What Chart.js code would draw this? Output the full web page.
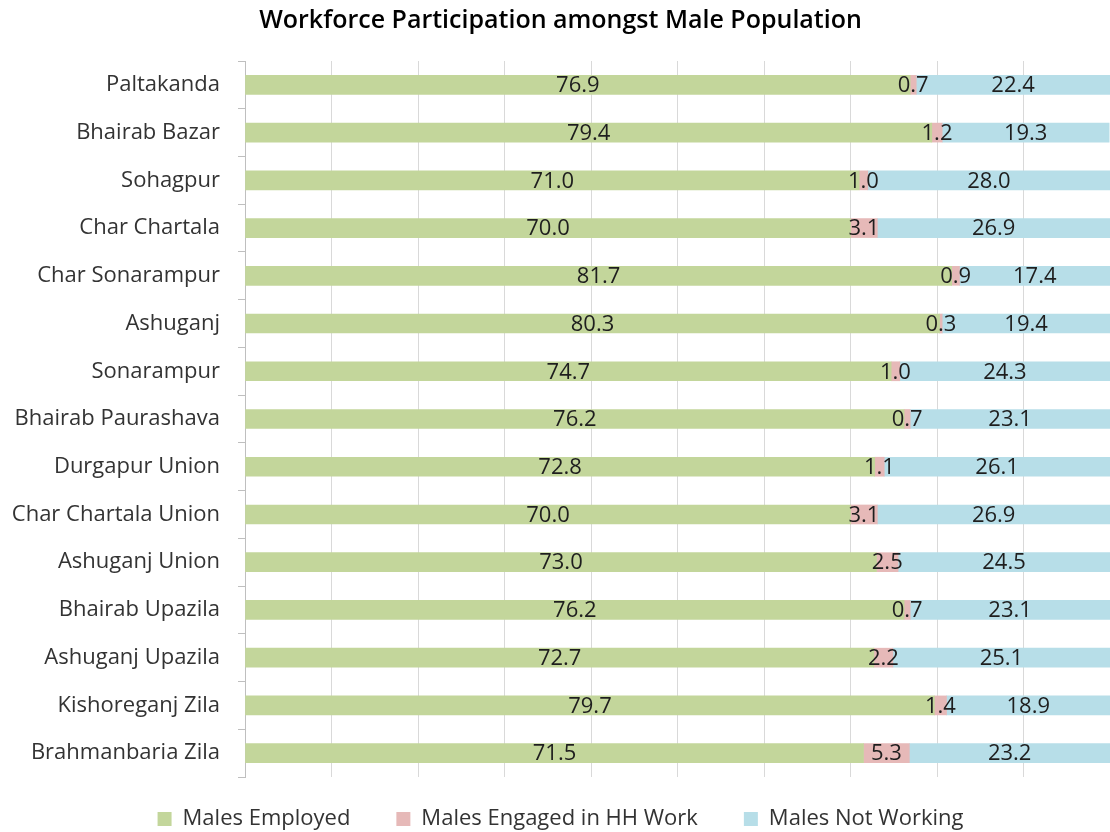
<!DOCTYPE html>
<html>
<head>
<meta charset="utf-8">
<script src="https://cdn.jsdelivr.net/npm/chart.js@4/dist/chart.umd.min.js"></script>
<style>
  body { margin: 0; background: #fff; }
  #wrap { width: 1110px; height: 832px; }
</style>
</head>
<body>
<div id="wrap"><canvas id="chart"></canvas></div>
<script>
const places = [
  "Paltakanda", "Bhairab Bazar", "Sohagpur", "Char Chartala", "Char Sonarampur",
  "Ashuganj", "Sonarampur", "Bhairab Paurashava", "Durgapur Union",
  "Char Chartala Union", "Ashuganj Union", "Bhairab Upazila",
  "Ashuganj Upazila", "Kishoreganj Zila", "Brahmanbaria Zila"
];
const employed   = [76.9, 79.4, 71.0, 70.0, 81.7, 80.3, 74.7, 76.2, 72.8, 70.0, 73.0, 76.2, 72.7, 79.7, 71.5];
const hhWork     = [0.7, 1.2, 1.0, 3.1, 0.9, 0.3, 1.0, 0.7, 1.1, 3.1, 2.5, 0.7, 2.2, 1.4, 5.3];
const notWorking = [22.4, 19.3, 28.0, 26.9, 17.4, 19.4, 24.3, 23.1, 26.1, 26.9, 24.5, 23.1, 25.1, 18.9, 23.2];

const FONT = "'Open Sans', 'DejaVu Sans', sans-serif";

// draws the value in the middle of each bar piece
const barLabels = {
  id: "barLabels",
  afterDatasetsDraw(chart) {
    const ctx = chart.ctx;
    ctx.save();
    ctx.font = "22px " + FONT;
    ctx.fillStyle = "#1e1e1e";
    ctx.textAlign = "center";
    ctx.textBaseline = "middle";
    chart.data.datasets.forEach((ds, i) => {
      chart.getDatasetMeta(i).data.forEach((el, j) => {
        const x = (el.x + el.base) / 2;
        ctx.fillText(ds.data[j].toFixed(1), x, el.y + 1);
      });
    });
    ctx.restore();
  }
};

new Chart(document.getElementById("chart"), {
  type: "bar",
  data: {
    labels: places,
    datasets: [
      { label: "Males Employed", data: employed, backgroundColor: "#c3d69b" },
      { label: "Males Engaged in HH Work", data: hhWork, backgroundColor: "#e6b9b8" },
      { label: "Males Not Working", data: notWorking, backgroundColor: "#b7dee8" }
    ]
  },
  options: {
    indexAxis: "y",
    responsive: true,
    maintainAspectRatio: false,
    animation: false,
    // the plot runs a little past the right edge, like the original picture
    layout: { padding: { top: 4, right: -5, left: 6, bottom: -8 } },
    datasets: { bar: { barThickness: 19, borderWidth: 0 } },
    plugins: {
      title: {
        display: true,
        text: "Workforce Participation amongst Male Population",
        color: "#000",
        font: { family: FONT, size: 25, weight: "600" },
        padding: { top: 2, bottom: 25 }
      },
      legend: {
        position: "bottom",
        labels: {
          color: "#333",
          font: { family: FONT, size: 22 },
          boxWidth: 14,
          boxHeight: 14,
          padding: 6,
          // extra trailing spaces widen the gap between items without a taller legend
          generateLabels(chart) {
            const items = Chart.defaults.plugins.legend.labels.generateLabels(chart);
            items.forEach((it, i) => { if (i < items.length - 1) it.text += "       "; });
            return items;
          }
        }
      },
      tooltip: { enabled: false }
    },
    scales: {
      x: {
        stacked: true,
        min: 0,
        max: 100,
        afterFit(scale) { scale.height = 25; },
        ticks: { display: false, stepSize: 10 },
        grid: { color: "#d9d9d9", drawTicks: false },
        border: { display: false }
      },
      y: {
        stacked: true,
        afterFit(scale) { scale.width = 239; },
        ticks: { color: "#333", font: { family: FONT, size: 22 }, padding: 18 },
        grid: { drawOnChartArea: false, color: "#bfbfbf", tickLength: 7, offset: true },
        border: { display: true, color: "#bfbfbf" }
      }
    }
  },
  plugins: [barLabels]
});
</script>
</body>
</html>
